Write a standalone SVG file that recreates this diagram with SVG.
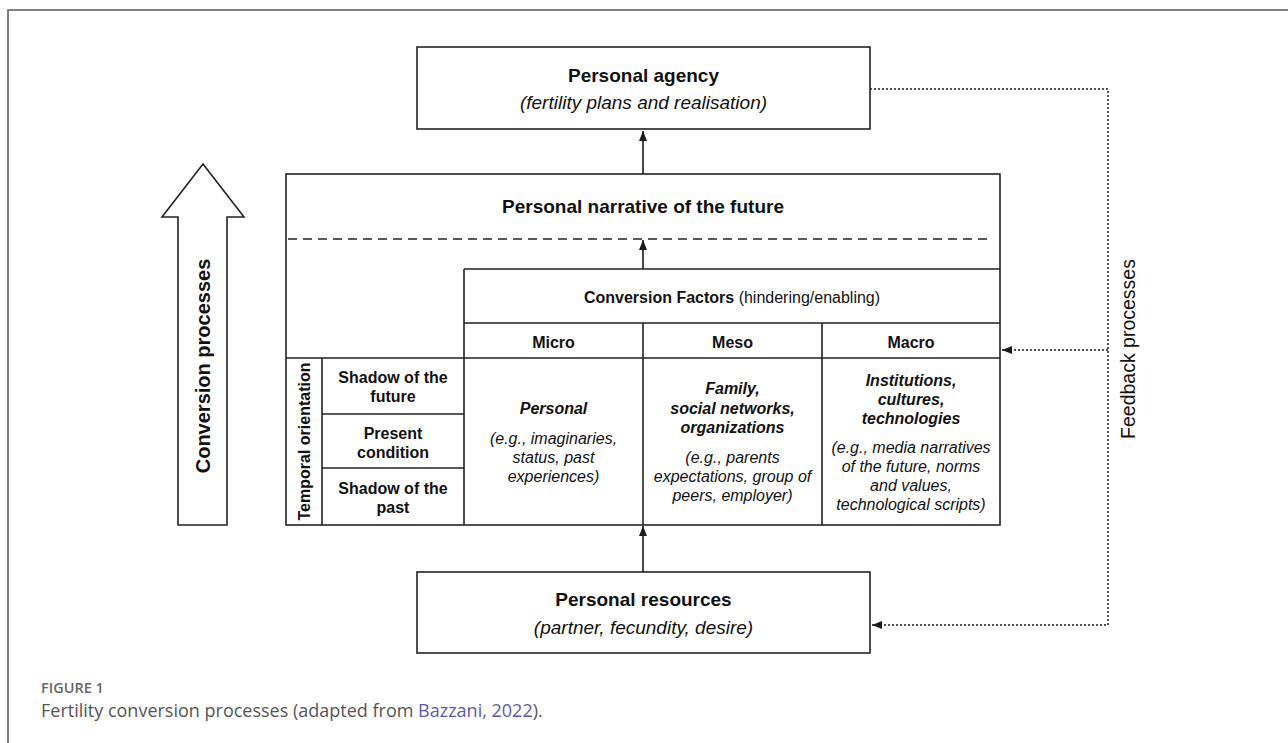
<svg xmlns="http://www.w3.org/2000/svg" width="1288" height="743" viewBox="0 0 1288 743">
<style>
.box{fill:#fff;stroke:#222;stroke-width:1.6}
.ln{stroke:#222;stroke-width:1.6;fill:none}
.t{font-family:"Liberation Sans",Arial,sans-serif;fill:#111;text-anchor:middle}
.b{font-weight:bold}
.i{font-style:italic}
.s19{font-size:19px}
.s16{font-size:16px}
.con{stroke:#1a1a1a;stroke-width:1.6;fill:none}
.dot{stroke:#1a1a1a;stroke-width:1.5;fill:none;stroke-dasharray:2 2}
.cap{font-family:"Open Sans","Liberation Sans",sans-serif}
</style>
<defs>
<marker id="ah" viewBox="0 0 10 8" refX="10" refY="4" markerWidth="10" markerHeight="8" orient="auto" markerUnits="userSpaceOnUse"><path d="M0,0 L10,4 L0,8 z" fill="#1a1a1a"/></marker>
</defs>
<rect width="1288" height="743" fill="#fff"/>
<path d="M8,743 V10 H1288" fill="none" stroke="#555" stroke-width="1.5"/>

<g id="conversion-arrow">
<polygon class="box" points="203,164 244,217 227,217 227,525 178,525 178,217 162,217"/>
<text class="t b" font-size="20" transform="translate(209.5,366) rotate(-90)">Conversion processes</text>
</g>

<g id="personal-agency">
<rect class="box" x="417" y="47" width="453" height="82"/>
<text class="t b s19" x="643.5" y="82">Personal agency</text>
<text class="t i s19" x="643.5" y="109">(fertility plans and realisation)</text>
</g>

<g id="personal-narrative">
<rect class="box" x="286" y="174" width="714" height="351"/>
<text class="t b s19" x="643" y="213">Personal narrative of the future</text>
<line x1="288" y1="239" x2="988" y2="239" stroke="#222" stroke-width="1.6" stroke-dasharray="9 6"/>
</g>

<g id="conversion-factors">
<path class="ln" d="M464,269 H1000 M464,269 V525 M464,323 H1000 M286,358 H1000 M643,323 V525 M822,323 V525"/>
<text class="t s16" x="732" y="303"><tspan class="b">Conversion Factors</tspan> (hindering/enabling)</text>
</g>

<g id="micro">
<text class="t b s16" x="553.5" y="348">Micro</text>
<text class="t b i s16" x="553.5" y="414">Personal</text>
<text class="t i s16" x="553.5" y="444">(e.g., imaginaries,</text>
<text class="t i s16" x="553.5" y="463">status, past</text>
<text class="t i s16" x="553.5" y="482">experiences)</text>
</g>

<g id="meso">
<text class="t b s16" x="732.5" y="348">Meso</text>
<text class="t b i s16" x="732.5" y="394">Family,</text>
<text class="t b i s16" x="732.5" y="414">social networks,</text>
<text class="t b i s16" x="732.5" y="433">organizations</text>
<text class="t i s16" x="732.5" y="463">(e.g., parents</text>
<text class="t i s16" x="732.5" y="482">expectations, group of</text>
<text class="t i s16" x="732.5" y="501">peers, employer)</text>
</g>

<g id="macro">
<text class="t b s16" x="911" y="348">Macro</text>
<text class="t b i s16" x="911" y="386">Institutions,</text>
<text class="t b i s16" x="911" y="405">cultures,</text>
<text class="t b i s16" x="911" y="424">technologies</text>
<text class="t i s16" x="911" y="453">(e.g., media narratives</text>
<text class="t i s16" x="911" y="472">of the future, norms</text>
<text class="t i s16" x="911" y="491">and values,</text>
<text class="t i s16" x="911" y="510">technological scripts)</text>
</g>

<g id="temporal-orientation">
<path class="ln" d="M322,358 V525 M322,414 H464 M322,468 H464"/>
<text class="t b s16" transform="translate(310,441.5) rotate(-90)">Temporal orientation</text>
<text class="t b s16" x="393" y="383">Shadow of the</text>
<text class="t b s16" x="393" y="402">future</text>
<text class="t b s16" x="393" y="439">Present</text>
<text class="t b s16" x="393" y="458">condition</text>
<text class="t b s16" x="393" y="494">Shadow of the</text>
<text class="t b s16" x="393" y="513">past</text>
</g>

<g id="personal-resources">
<rect class="box" x="417" y="572" width="453" height="81"/>
<text class="t b s19" x="643.5" y="606">Personal resources</text>
<text class="t i s19" x="643.5" y="634">(partner, fecundity, desire)</text>
</g>

<g id="feedback-label">
<text class="t" font-size="19.5" transform="translate(1135,349) rotate(-90)">Feedback processes</text>
</g>

<g id="connectors">
<line class="con" x1="643" y1="174" x2="643" y2="131" marker-end="url(#ah)"/>
<line class="con" x1="643" y1="269" x2="643" y2="240" marker-end="url(#ah)"/>
<line class="con" x1="643" y1="572" x2="643" y2="526" marker-end="url(#ah)"/>
<path class="dot" d="M870,89 H1108 V625 H872" marker-end="url(#ah)"/>
<path class="dot" d="M1108,350 H1002" marker-end="url(#ah)"/>
</g>

<g id="caption">
<text class="cap" x="41" y="693" font-size="14.5" font-weight="600" fill="#666">FIGURE 1</text>
<text class="cap" x="41" y="717" font-size="18" fill="#555">Fertility conversion processes (adapted from <tspan fill="#5a5aa8">Bazzani, 2022</tspan>).</text>
</g>
</svg>
